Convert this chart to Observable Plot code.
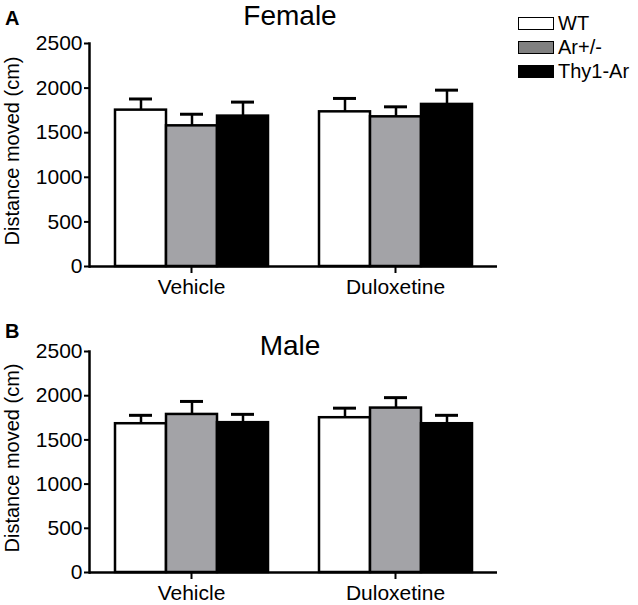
<!DOCTYPE html>
<html>
<head>
<meta charset="utf-8">
<script src="https://cdn.jsdelivr.net/npm/d3@7"></script>
<script src="https://cdn.jsdelivr.net/npm/@observablehq/plot@0.6"></script>
<style>
  html, body { margin: 0; padding: 0; background: #fff; }
  body { font-family: "Liberation Sans", Arial, sans-serif; color: #000; }
  #wrap { position: relative; width: 638px; height: 605px; overflow: hidden; }
  .panel { position: absolute; left: 0; }
  .abs { position: absolute; line-height: 1.15; white-space: nowrap; }
  .title { font-size: 28px; transform: translateX(-50%); }
  .letter { font-size: 20px; font-weight: bold; }
  .ylabel { font-size: 20px; line-height: 1; transform: translate(-50%, -50%) rotate(-90deg); }
  .legend-row { position: absolute; left: 518px; display: flex; align-items: center; font-size: 20px; line-height: 1; }
  .sw { width: 34px; height: 11px; border: 1.5px solid #000; margin-right: 4px; }
</style>
</head>
<body>
<div id="wrap"></div>
<script>
// ---- data ----
const conditions = ["Vehicle", "Duloxetine"];
const genotypes = ["WT", "Ar+/-", "Thy1-Ar"];
// order: Vehicle WT, Ar+/-, Thy1-Ar, Duloxetine WT, Ar+/-, Thy1-Ar
const femaleMean = [1753, 1577, 1686, 1734, 1678, 1817];
const femaleSem  = [125, 130, 157, 150, 112, 160];
const maleMean   = [1683, 1788, 1695, 1751, 1860, 1683];
const maleSem    = [95, 147, 94, 108, 118, 95];
const yTicks = [0, 500, 1000, 1500, 2000, 2500];
const panelTitles = ["Female", "Male"];
const panelLetters = ["A", "B"];
const yLabel = "Distance moved (cm)";
const barColors = ["#ffffff", "#a3a3a7", "#000000"];
const legendColors = ["#ffffff", "#808080", "#000000"];

function rows(mean, sem) {
  const out = [];
  conditions.forEach((c, i) => genotypes.forEach((g, j) => {
    const k = i * genotypes.length + j;
    out.push({condition: c, genotype: g, mean: mean[k], sem: sem[k]});
  }));
  return out;
}

function panel(data, height, marginTop, marginBottom) {
  return Plot.plot({
    width: 638,
    height,
    marginLeft: 88,
    marginRight: 141,
    marginTop,
    marginBottom,
    style: {fontFamily: "'Liberation Sans', Arial, sans-serif", fontSize: "21px", color: "#000", background: "transparent", overflow: "visible"},
    fx: {domain: conditions, padding: 0, label: null},
    x: {domain: genotypes, paddingInner: 0, paddingOuter: 0.5, axis: null},
    y: {domain: [0, 2500], label: null},
    color: {domain: genotypes, range: barColors},
    marks: [
      Plot.barY(data, {fx: "condition", x: "genotype", y: "mean", fill: "genotype", stroke: "#000", strokeWidth: 2.5}),
      Plot.ruleX(data, {fx: "condition", x: "genotype", y1: "mean", y2: d => d.mean + d.sem, stroke: "#000", strokeWidth: 2.5}),
      Plot.tickY(data, {fx: "condition", x: "genotype", y: d => d.mean + d.sem, stroke: "#000", strokeWidth: 3, insetLeft: 14, insetRight: 14}),
      Plot.ruleY([0], {stroke: "#000", strokeWidth: 2.5}),
      Plot.frame({anchor: "left", facetAnchor: "left", stroke: "#000", strokeWidth: 2.5}),
      Plot.axisY({ticks: yTicks, tickSize: 5, tickPadding: 2, strokeWidth: 2, label: null, tickFormat: d => String(d)}),
      Plot.axisFx({anchor: "bottom", tickSize: 7, tickPadding: 6, strokeWidth: 2, label: null})
    ]
  });
}

const wrap = document.getElementById("wrap");
const specs = [
  {data: rows(femaleMean, femaleSem), top: 0, height: 300, mt: 43, mb: 34},
  {data: rows(maleMean, maleSem), top: 300, height: 305, mt: 51, mb: 33}
];
specs.forEach((s, i) => {
  const div = document.createElement("div");
  div.className = "panel";
  div.style.top = s.top + "px";
  div.appendChild(panel(s.data, s.height, s.mt, s.mb));
  wrap.appendChild(div);
});

// titles, letters, y labels
const titleTops = [0, 330];
const letterTops = [7, 320];
const ylabelCenters = [151, 458];
panelTitles.forEach((t, i) => {
  const el = document.createElement("div");
  el.className = "abs title";
  el.style.left = "290px";
  el.style.top = titleTops[i] + "px";
  el.textContent = t;
  wrap.appendChild(el);

  const l = document.createElement("div");
  l.className = "abs letter";
  l.style.left = "5px";
  l.style.top = letterTops[i] + "px";
  l.textContent = panelLetters[i];
  wrap.appendChild(l);

  const y = document.createElement("div");
  y.className = "abs ylabel";
  y.style.left = "12px";
  y.style.top = ylabelCenters[i] + "px";
  y.textContent = yLabel;
  wrap.appendChild(y);
});

// legend
genotypes.forEach((g, j) => {
  const row = document.createElement("div");
  row.className = "legend-row";
  row.style.top = (13 + j * 24) + "px";
  const sw = document.createElement("div");
  sw.className = "sw";
  sw.style.background = legendColors[j];
  const tx = document.createElement("span");
  tx.textContent = g;
  row.appendChild(sw);
  row.appendChild(tx);
  wrap.appendChild(row);
});
</script>
</body>
</html>
